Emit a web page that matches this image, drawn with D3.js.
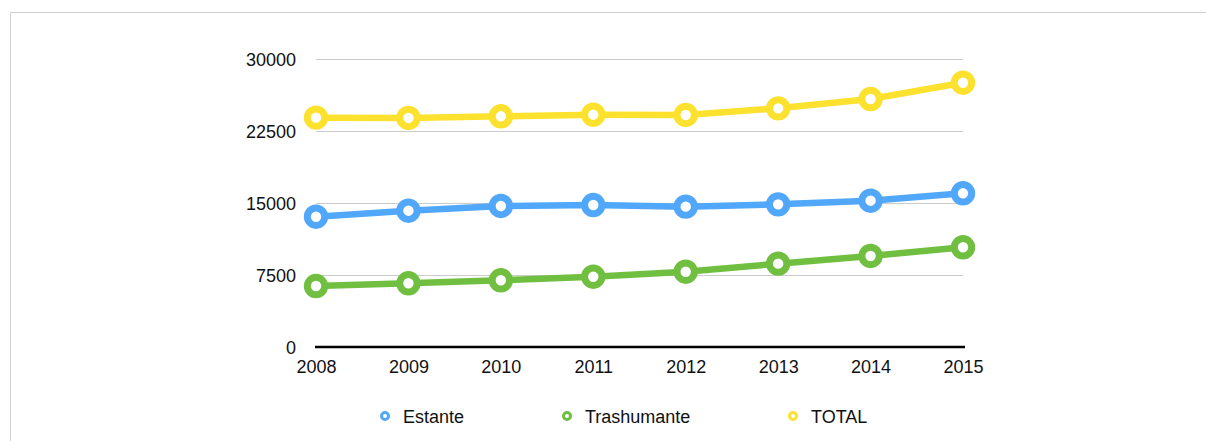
<!DOCTYPE html>
<html>
<head>
<meta charset="utf-8">
<script src="https://cdn.jsdelivr.net/npm/d3@7"></script>
<style>
  body { margin: 0; background: #fff; }
  svg { display: block; font-family: "Liberation Sans", Arial, Helvetica, sans-serif; }
  .grid line { stroke: #cccccc; stroke-width: 1; }
  .tick text { fill: #111; font-size: 18px; }
</style>
</head>
<body>
<svg width="1206" height="441"></svg>
<script>
const years = ["2008", "2009", "2010", "2011", "2012", "2013", "2014", "2015"];
const estante = [13570, 14200, 14690, 14790, 14620, 14860, 15240, 16010];
const trashumante = [6350, 6640, 6950, 7320, 7840, 8680, 9480, 10390];
const total = [23890, 23860, 24030, 24200, 24170, 24860, 25830, 27530];
const yTicks = [0, 7500, 15000, 22500, 30000];

const series = [
  { name: "Estante", values: estante, color: "#51a7f9" },
  { name: "Trashumante", values: trashumante, color: "#70bf41" },
  { name: "TOTAL", values: total, color: "#fce12e" }
];

const svg = d3.select("svg");

// frame
svg.append("line").attr("x1", 10.5).attr("x2", 1206).attr("y1", 12.5).attr("y2", 12.5)
  .attr("stroke", "#d0d0d0");
svg.append("line").attr("x1", 10.5).attr("x2", 10.5).attr("y1", 12.5).attr("y2", 441)
  .attr("stroke", "#d0d0d0");

const x = d3.scalePoint().domain(years).range([316, 963]);
const y = d3.scaleLinear().domain([0, 30000]).range([347, 59]);

// gridlines
svg.append("g").attr("class", "grid")
  .selectAll("line")
  .data(yTicks.filter(d => d > 0))
  .enter().append("line")
  .attr("x1", 316).attr("x2", 963)
  .attr("y1", d => Math.round(y(d)) + 0.5)
  .attr("y2", d => Math.round(y(d)) + 0.5);

// y axis labels
const yAxis = svg.append("g")
  .attr("transform", "translate(296,0)")
  .call(d3.axisLeft(y).tickValues(yTicks).tickSize(0).tickPadding(0).tickFormat(d3.format("d")));
yAxis.select(".domain").remove();
yAxis.selectAll(".tick text").attr("dy", "0.35em");

// x axis
const xAxis = svg.append("g")
  .attr("transform", "translate(0,347)")
  .call(d3.axisBottom(x).tickSize(0).tickPadding(13));
xAxis.select(".domain").attr("stroke", "#000").attr("stroke-width", 2.5)
  .attr("d", "M315,0H965");

// lines
const line = d3.line().x((d, i) => x(years[i])).y(d => y(d));

series.forEach(s => {
  svg.append("path")
    .datum(s.values)
    .attr("fill", "none")
    .attr("stroke", s.color)
    .attr("stroke-width", 6.5)
    .attr("stroke-linejoin", "round")
    .attr("d", line);

  svg.append("g").selectAll("circle")
    .data(s.values)
    .enter().append("circle")
    .attr("cx", (d, i) => x(years[i]))
    .attr("cy", d => y(d))
    .attr("r", 8.7)
    .attr("fill", "#fff")
    .attr("stroke", s.color)
    .attr("stroke-width", 7);
});

// legend
const legendX = [385, 567, 793];
const legend = svg.append("g").selectAll("g")
  .data(series)
  .enter().append("g")
  .attr("transform", (d, i) => "translate(" + legendX[i] + ",416)");

legend.append("circle")
  .attr("r", 3.5)
  .attr("fill", "#fff")
  .attr("stroke", d => d.color)
  .attr("stroke-width", 3);

legend.append("text")
  .attr("x", 18)
  .attr("y", 6.5)
  .attr("font-size", 18)
  .attr("fill", "#111")
  .text(d => d.name);
</script>
</body>
</html>
